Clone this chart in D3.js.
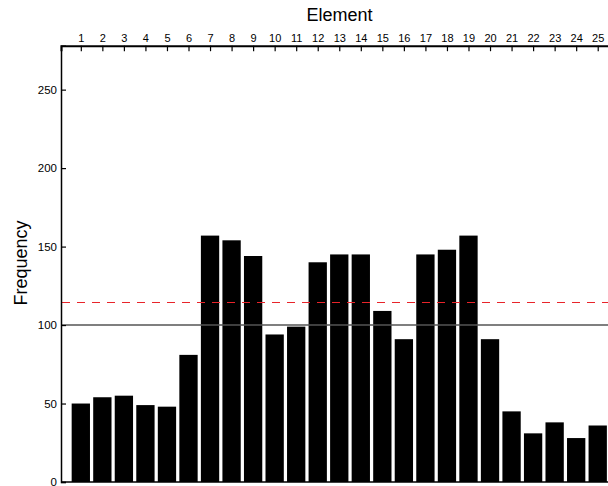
<!DOCTYPE html>
<html>
<head>
<meta charset="utf-8">
<script src="https://cdn.jsdelivr.net/npm/d3@7/dist/d3.min.js"></script>
<style>
  html, body { margin: 0; padding: 0; background: #fff; overflow: hidden; }
  svg { display: block; font-family: "Liberation Sans", Arial, Helvetica, sans-serif; }
</style>
</head>
<body>
<svg id="chart" width="608" height="486"></svg>
<script>
// Element numbers along the top axis
const elements = d3.range(1, 26);
// Observed frequency for each element
const frequencies = [50, 54, 55, 49, 48, 81, 157, 154, 144, 94, 99, 140, 145, 145, 109, 91, 145, 148, 157, 91, 45, 31, 38, 28, 36];
// Reference levels: expected (solid) and threshold (dashed)
const expectedLevel = 100;
const thresholdLevel = 115;
// Y-axis tick values
const yTicks = [0, 50, 100, 150, 200, 250];

const svg = d3.select("#chart");

const plotLeft = 61, plotTop = 45.7, plotBottom = 482;

const x = d3.scaleLinear().domain([0.08, 26]).range([plotLeft, plotLeft + 25.92 * 21.5375]);
const y = d3.scaleLinear().domain([0, 278]).range([plotBottom, plotTop]);
const barWidth = 0.85;

// Bars
svg.append("g")
  .selectAll("rect")
  .data(elements)
  .join("rect")
  .attr("x", (d) => x(d - barWidth / 2))
  .attr("width", x(barWidth) - x(0))
  .attr("y", (d, i) => y(frequencies[i]))
  .attr("height", (d, i) => y(0) - y(frequencies[i]))
  .attr("fill", "#000");

// Expected level line
svg.append("line")
  .attr("x1", plotLeft).attr("x2", 608)
  .attr("y1", y(expectedLevel)).attr("y2", y(expectedLevel))
  .attr("stroke", "#555").attr("stroke-width", 1.5);

// Threshold dashed line
svg.append("line")
  .attr("x1", plotLeft + 1).attr("x2", 608)
  .attr("y1", Math.round(y(thresholdLevel)) + 0.5).attr("y2", Math.round(y(thresholdLevel)) + 0.5)
  .attr("stroke", "#e8242a").attr("stroke-width", 1)
  .attr("stroke-dasharray", "8,7");

// Left axis
const yAxis = d3.axisLeft(y).tickValues(yTicks).tickSize(-5).tickPadding(4);
const gy = svg.append("g").attr("transform", `translate(${plotLeft},0)`).call(yAxis);
gy.select(".domain").attr("stroke", "#000").attr("stroke-width", 1.5);
gy.selectAll(".tick line").attr("stroke", "#000").attr("stroke-width", 1.2);
gy.selectAll(".tick text").attr("font-size", 11.5).attr("fill", "#000")
  .attr("font-family", "Liberation Sans, Arial, sans-serif");

// Top axis
const xAxis = d3.axisTop(x).tickValues(elements).tickFormat(d3.format("d")).tickSize(-5.5).tickPadding(4);
const gx = svg.append("g").attr("transform", `translate(0,${plotTop})`).call(xAxis);
gx.select(".domain").attr("stroke", "#000").attr("stroke-width", 2);
gx.selectAll(".tick line").attr("stroke", "#000").attr("stroke-width", 1.2);
gx.selectAll(".tick text").attr("font-size", 11).attr("fill", "#000")
  .attr("font-family", "Liberation Sans, Arial, sans-serif");

// Bottom baseline
svg.append("line")
  .attr("x1", plotLeft).attr("x2", 608)
  .attr("y1", plotBottom).attr("y2", plotBottom)
  .attr("stroke", "#000").attr("stroke-width", 1.5);

// Axis titles
svg.append("text")
  .attr("x", 339.5).attr("y", 21)
  .attr("text-anchor", "middle")
  .attr("font-size", 18)
  .text("Element");

svg.append("text")
  .attr("transform", "translate(26.5,263) rotate(-90)")
  .attr("text-anchor", "middle")
  .attr("font-size", 18)
  .text("Frequency");
</script>
</body>
</html>
